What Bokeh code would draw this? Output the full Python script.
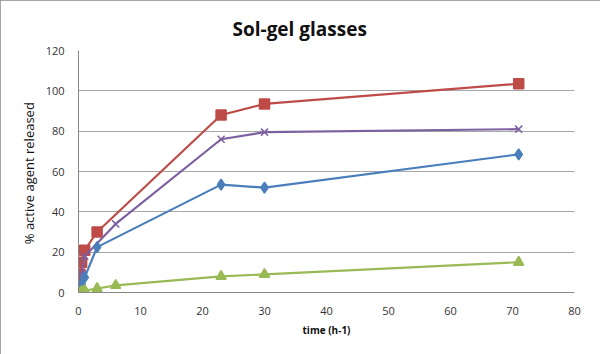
from bokeh.plotting import figure
from bokeh.models import SingleIntervalTicker, Range1d
from bokeh.embed import file_html
from bokeh.resources import INLINE

# Data
red_x = [0, 0.25, 0.5, 1, 3, 23, 30, 71]
red_y = [2.5, 9, 15, 21, 30, 88, 93.5, 103.5]

purple_x = [0, 0.5, 1, 6, 23, 30, 71]
purple_y = [3, 9, 18, 34, 76, 79.5, 81]

blue_x = [0, 0.5, 1, 3, 23, 30, 71]
blue_y = [1, 4, 7.5, 22.5, 53.5, 52, 68.5]

green_x = [0, 0.5, 1, 3, 6, 23, 30, 71]
green_y = [0, 0.5, 1, 2, 3.5, 8, 9, 15]

title_text = "Sol-gel glasses"
x_label = "time (h-1)"
y_label = "% active agent  released"

FONT = "Open Sans"

p = figure(width=600, height=354, output_backend="svg", toolbar_location=None,
           x_range=Range1d(0, 80), y_range=Range1d(0, 120),
           min_border_left=78, min_border_right=26, min_border_top=50, min_border_bottom=62,
           title=title_text)
p.background_fill_color = "white"
p.border_fill_color = "white"
p.outline_line_color = None
p.styles = {"outline": "1px solid #888888", "outline-offset": "-1px"}

p.title.align = "left"
p.title.offset = 154
p.title.text_font = FONT
p.title.text_font_size = "19px"
p.title.text_font_style = "bold"
p.title.text_color = "#111111"
p.title.standoff = 18

p.xaxis.ticker = SingleIntervalTicker(interval=10)
p.yaxis.ticker = SingleIntervalTicker(interval=20)
for ax in (p.xaxis[0], p.yaxis[0]):
    ax.major_label_text_font = FONT
    ax.major_label_text_font_size = "11px"
    ax.major_label_text_color = "#333333"
    ax.axis_line_color = "#888888"
    ax.major_tick_line_color = None
    ax.minor_tick_line_color = None
    ax.axis_label_text_font = FONT
    ax.axis_label_text_color = "#111111"
p.xaxis.major_label_standoff = 8
p.yaxis.major_label_standoff = 8

p.xaxis.axis_label = x_label
p.xaxis.axis_label_text_font_size = "10px"
p.xaxis.axis_label_text_font_style = "bold"
p.xaxis.axis_label_standoff = 5
p.yaxis.axis_label = y_label
p.yaxis.axis_label_text_font_size = "13px"
p.yaxis.axis_label_text_font_style = "normal"
p.yaxis.axis_label_standoff = 5

p.xgrid.grid_line_color = None
p.ygrid.grid_line_color = "#A6A6A6"
p.ygrid.grid_line_width = 1

series = [
    (red_x, red_y, "#BE4B48", "square", 10),
    (purple_x, purple_y, "#7D60A0", "x", 10),
    (blue_x, blue_y, "#4A7EBB", "diamond", 11),
    (green_x, green_y, "#98B954", "triangle", 10),
]
for xs, ys, c, m, s in series:
    p.line(xs, ys, line_color=c, line_width=2.2)
    p.scatter(xs, ys, marker=m, size=s, fill_color=c, line_color=c, line_width=1.5)

open("out.html", "w").write(file_html(p, INLINE))
